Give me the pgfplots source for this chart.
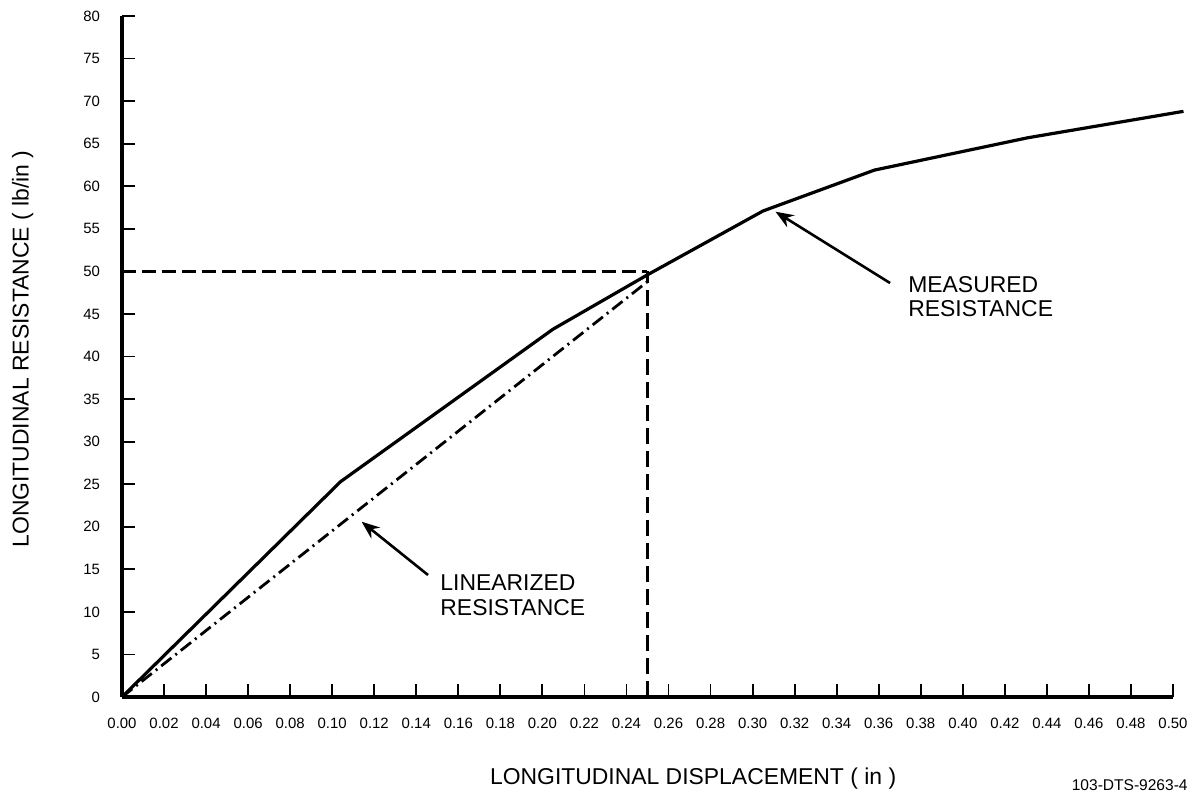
\documentclass[border=0pt]{standalone}
\usepackage{pgfplots}
\pgfplotsset{compat=1.18}
\usepackage{fontspec}
\setmainfont{Liberation Sans}
\usetikzlibrary{arrows.meta}
\begin{document}
\begin{tikzpicture}
\path[use as bounding box] (-61bp,-50bp) rectangle (536bp,348.5bp);
\begin{axis}[
  at={(0,0)}, anchor=south west,
  scale only axis, width=525.5bp, height=340.5bp,
  xmin=0, xmax=0.5, ymin=0, ymax=80,
  axis lines=left,
  x axis line style={-, line width=1.6bp},
  y axis line style={-, line width=2bp},
  xtick distance=0.02, ytick distance=5,
  tick align=inside,
  xtick pos=bottom, ytick pos=left,
  major tick length=6.5bp,
  tick style={black, line width=0.9bp},
  /pgf/number format/assume math mode=true,
  ticklabel style={font=\fontsize{7.5}{9}\selectfont},
  xticklabel={\pgfmathprintnumber[fixed,fixed zerofill,precision=2]{\tick}},
  yticklabel={\pgfmathprintnumber[fixed,precision=0]{\tick}},
  xticklabel style={yshift=-7bp},
  yticklabel style={xshift=-7.5bp},
  clip=false,
  xlabel={LONGITUDINAL DISPLACEMENT ( in )},
  xlabel style={at={(axis description cs:0.3435,0)}, anchor=west, yshift=-41bp,
    font=\fontsize{11.5}{13}\selectfont},
  ylabel={LONGITUDINAL RESISTANCE ( lb/in )},
  ylabel style={at={(axis description cs:-0.0944,0.511)}, anchor=center,
    font=\fontsize{11.5}{13}\selectfont},
]
% measured resistance
\addplot[black, line width=1.6bp, line join=round] coordinates {
  (0,0) (0.104,25.3) (0.205,43.2) (0.25,49.6) (0.305,57.1)
  (0.358,61.9) (0.431,65.7) (0.505,68.8)
};
% linearized resistance
\addplot[black, line width=1.4bp, dash pattern=on 6.5bp off 2.5bp on 1bp off 2.5bp] coordinates {
  (0,0) (0.25,48.8)
};
% reference dashed lines
\addplot[black, line width=1.8bp, dash pattern=on 7bp off 3bp] coordinates {
  (0,50) (0.25,50)
};
\addplot[black, line width=1.8bp, dash pattern=on 8bp off 3.5bp] coordinates {
  (0.25,0) (0.25,50)
};
% annotations
\draw[line width=1.3bp, -{Stealth[length=9bp,width=7bp]}] (axis cs:0.1456,14.33) -- (axis cs:0.1140,20.59);
\draw[line width=1.3bp, -{Stealth[length=9bp,width=7bp]}] (axis cs:0.3654,48.63) -- (axis cs:0.3109,57.01);
\node[anchor=west, inner sep=0, font=\fontsize{11.5}{13}\selectfont] at (axis cs:0.1513,13.39) {LINEARIZED};
\node[anchor=west, inner sep=0, font=\fontsize{11.5}{13}\selectfont] at (axis cs:0.1513,10.46) {RESISTANCE};
\node[anchor=west, inner sep=0, font=\fontsize{11.5}{13}\selectfont] at (axis cs:0.3739,48.4) {MEASURED};
\node[anchor=west, inner sep=0, font=\fontsize{11.5}{13}\selectfont] at (axis cs:0.3739,45.58) {RESISTANCE};
\end{axis}
\node[anchor=east, inner sep=0, font=\fontsize{7.8}{9}\selectfont] at (533bp,-44bp) {103-DTS-9263-4};
\end{tikzpicture}
\end{document}
